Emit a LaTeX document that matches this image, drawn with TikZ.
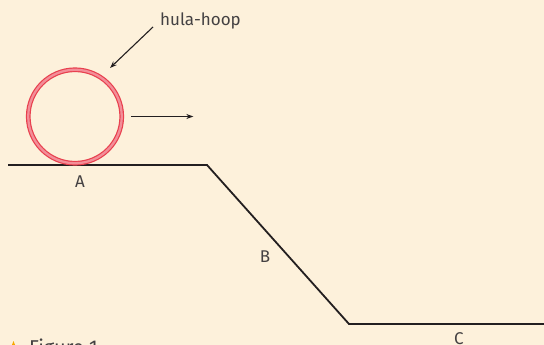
\documentclass[tikz,border=0pt]{standalone}
\usepackage{fontspec}
\setmainfont{Fira Sans}
\usetikzlibrary{arrows.meta,positioning,calc}
\definecolor{paper}{HTML}{FDF1DB}
\definecolor{ink}{HTML}{231F20}
\definecolor{hoopred}{HTML}{E8404E}
\definecolor{hooppink}{HTML}{F38E98}
\definecolor{markorange}{HTML}{F7A800}

\begin{document}
\begin{tikzpicture}[
  x=1pt, y=-1pt,
  >={Stealth[length=7pt,width=5pt]},
  label/.style={font=\fontsize{17}{19}\selectfont, text=ink!85, inner sep=0pt},
  hoop/.style={circle, minimum size=93.5pt, inner sep=0pt, draw=hoopred,
               line width=1.2pt, double=hooppink, double distance=2.3pt},
  track/.style={draw=ink, line width=1.8pt, line join=miter},
  motion/.style={draw=ink, line width=1.1pt, ->}
]
\useasboundingbox[fill=paper] (0,0) rectangle (544,345);

% Track with flat start, slope and flat end
\coordinate (start) at (8,165);
\coordinate (edge) at (207,165);
\coordinate (foot) at (349,324);
\coordinate (finish) at (546,324);
\draw[track] (start) -- (edge) -- (foot) -- (finish);

% Hula-hoop resting on the track
\node[hoop] (hoop) at (75,116.5) {};
\coordinate (go) at ($(hoop.east)+(9,0)$);
\coordinate (gone) at ($(go)+(62,0)$);
\draw[motion] (go) -- (gone);

\node[label, anchor=base west] (name) at (160,26) {hula-hoop};
\coordinate (tail) at (153,27);
\coordinate (tip) at (110,68);
\draw[motion] (tail) -- (tip);

% Positions on the track
\node[label, anchor=base] (posA) at (80,187) {A};
\node[label, anchor=base] (posB) at (265,262) {B};
\node[label, anchor=base] (posC) at (459,344) {C};

% Caption, cut off by the frame
\fill[markorange] (10,350) -- (17,350) -- (13.5,341) -- cycle;
\node[anchor=base west, inner sep=0pt, text=ink!85,
      font=\fontsize{20}{22}\selectfont] (caption) at (29,354) {Figure 1};
\end{tikzpicture}
\end{document}
